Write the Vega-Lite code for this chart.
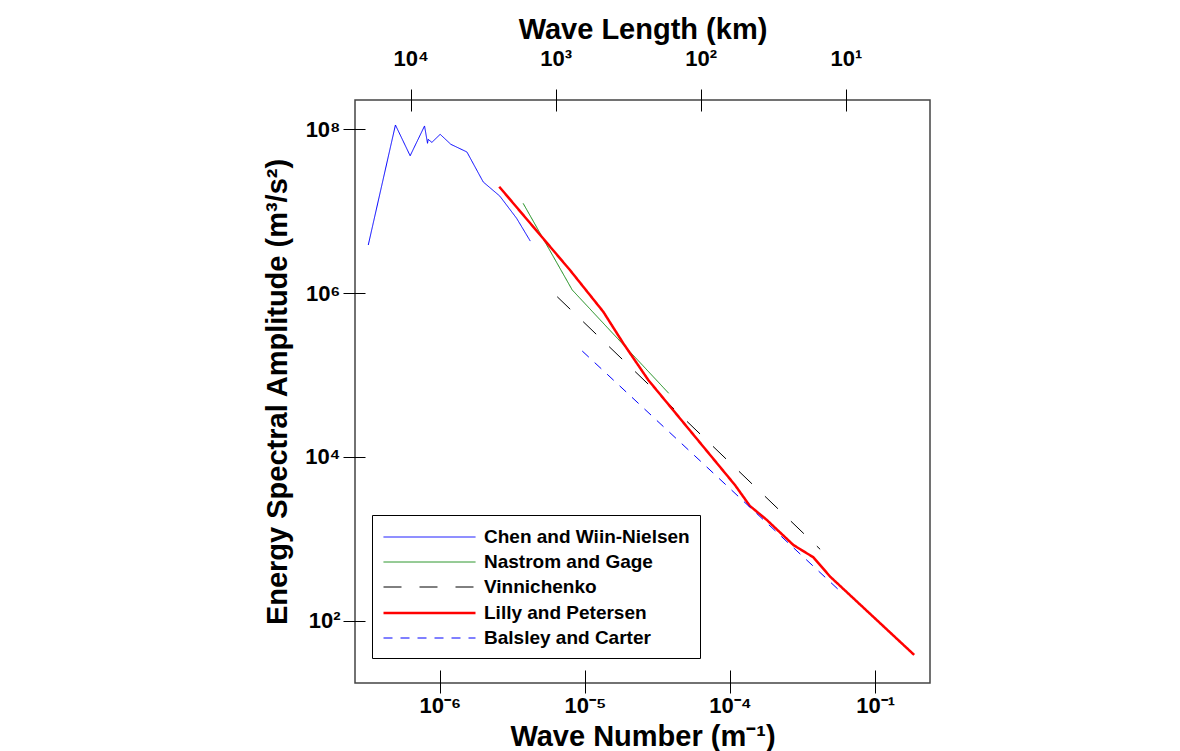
{
  "$schema": "https://vega.github.io/schema/vega-lite/v6.json",
  "autosize": {"type": "none"},
  "padding": {"left": 355, "top": 100, "right": 250, "bottom": 68},
  "width": 575,
  "height": 583,
  "background": "white",
  "config": {
    "view": {"stroke": "#444", "strokeWidth": 1.5},
    "font": "Liberation Sans",
    "axis": {
      "domain": false,
      "grid": false,
      "tickColor": "black",
      "tickWidth": 1,
      "labelFont": "Liberation Sans",
      "labelFontWeight": "bold",
      "labelFontSize": 22,
      "labelColor": "black",
      "titleFont": "Liberation Sans",
      "titleFontWeight": "bold",
      "titleFontSize": 29,
      "titleColor": "black"
    },
    "legend": {
      "title": null,
      "orient": "none",
      "legendX": 17,
      "legendY": 415,
      "padding": 10,
      "strokeColor": "black",
      "fillColor": "white",
      "labelFont": "Liberation Sans",
      "labelFontSize": 19,
      "labelFontWeight": "bold",
      "labelColor": "black",
      "labelLimit": 400,
      "symbolType": "M-1,0H7",
      "symbolSize": 529,
      "labelOffset": 76,
      "rowPadding": 3
    }
  },
  "data": {
    "values": [
      {"series": "Chen and Wiin-Nielsen", "k": 3.21e-7, "E": 3.85e6},
      {"series": "Chen and Wiin-Nielsen", "k": 4.94e-7, "E": 1.12e8},
      {"series": "Chen and Wiin-Nielsen", "k": 6.24e-7, "E": 4.72e7},
      {"series": "Chen and Wiin-Nielsen", "k": 7.84e-7, "E": 1.09e8},
      {"series": "Chen and Wiin-Nielsen", "k": 8.22e-7, "E": 6.7e7},
      {"series": "Chen and Wiin-Nielsen", "k": 8.3e-7, "E": 7.48e7},
      {"series": "Chen and Wiin-Nielsen", "k": 8.81e-7, "E": 6.88e7},
      {"series": "Chen and Wiin-Nielsen", "k": 1.005e-6, "E": 8.62e7},
      {"series": "Chen and Wiin-Nielsen", "k": 1.19e-6, "E": 6.51e7},
      {"series": "Chen and Wiin-Nielsen", "k": 1.536e-6, "E": 5.25e7},
      {"series": "Chen and Wiin-Nielsen", "k": 1.99e-6, "E": 2.26e7},
      {"series": "Chen and Wiin-Nielsen", "k": 2.59e-6, "E": 1.52e7},
      {"series": "Chen and Wiin-Nielsen", "k": 3.38e-6, "E": 8.15e6},
      {"series": "Chen and Wiin-Nielsen", "k": 4.2e-6, "E": 4.3e6},
      {"series": "Nastrom and Gage", "k": 3.75e-6, "E": 1.24e7},
      {"series": "Nastrom and Gage", "k": 8.17e-6, "E": 1.09e6},
      {"series": "Nastrom and Gage", "k": 3.78e-5, "E": 5.98e4},
      {"series": "Vinnichenko", "k": 6.44e-6, "E": 9.0e5},
      {"series": "Vinnichenko", "k": 4.18e-4, "E": 748},
      {"series": "Lilly and Petersen", "k": 2.565e-6, "E": 1.98e7},
      {"series": "Lilly and Petersen", "k": 7.88e-6, "E": 1.905e6},
      {"series": "Lilly and Petersen", "k": 1.337e-5, "E": 5.91e5},
      {"series": "Lilly and Petersen", "k": 1.836e-5, "E": 2.44e5},
      {"series": "Lilly and Petersen", "k": 2.73e-5, "E": 8.7e4},
      {"series": "Lilly and Petersen", "k": 1.08e-4, "E": 4560},
      {"series": "Lilly and Petersen", "k": 1.37e-4, "E": 2530},
      {"series": "Lilly and Petersen", "k": 1.79e-4, "E": 1710},
      {"series": "Lilly and Petersen", "k": 2.73e-4, "E": 845},
      {"series": "Lilly and Petersen", "k": 3.75e-4, "E": 598},
      {"series": "Lilly and Petersen", "k": 4.9e-4, "E": 347},
      {"series": "Lilly and Petersen", "k": 1.86e-3, "E": 38.5},
      {"series": "Balsley and Carter", "k": 9.58e-6, "E": 1.96e5},
      {"series": "Balsley and Carter", "k": 5.89e-4, "E": 221}
    ]
  },
  "layer": [
    {
      "mark": {"type": "line", "opacity": 0},
      "encoding": {
        "x": {
          "field": "k", "type": "quantitative",
          "scale": {"type": "log", "domain": [2.6e-7, 2.39e-3], "nice": false},
          "axis": {
            "orient": "top",
            "title": "Wave Length (km)",
            "values": [6.2832e-7, 6.2832e-6, 6.2832e-5, 6.2832e-4],
            "labelExpr": "datum.value < 1e-6 ? '10⁴' : datum.value < 1e-5 ? '10³' : datum.value < 1e-4 ? '10²' : '10¹'",
            "offset": -11,
            "tickSize": 22,
            "labelPadding": 19,
            "titlePadding": 3
          }
        },
        "y": {
          "field": "E", "type": "quantitative",
          "scale": {"type": "log", "domain": [17.5, 2.26e8], "nice": false},
          "axis": {
            "title": "Energy Spectral Amplitude (m³/s²)",
            "values": [100, 10000, 1000000, 100000000],
            "labelExpr": "datum.value < 1e3 ? '10²' : datum.value < 1e5 ? '10⁴' : datum.value < 1e7 ? '10⁶' : '10⁸'",
            "offset": -10,
            "tickSize": 22,
            "labelPadding": 3,
            "titlePadding": 12
          }
        },
        "detail": {"field": "series"}
      }
    },
    {
      "mark": {"type": "line"},
      "encoding": {
        "x": {
          "field": "k", "type": "quantitative",
          "scale": {"type": "log", "domain": [2.6e-7, 2.39e-3], "nice": false},
          "axis": {
            "orient": "bottom",
            "title": "Wave Number (m⁻¹)",
            "values": [1e-6, 1e-5, 1e-4, 1e-3],
            "labelExpr": "datum.value < 2e-6 ? '10⁻⁶' : datum.value < 2e-5 ? '10⁻⁵' : datum.value < 2e-4 ? '10⁻⁴' : '10⁻¹'",
            "offset": -13,
            "tickSize": 23,
            "labelPadding": 2,
            "titlePadding": 6
          }
        },
        "y": {
          "field": "E", "type": "quantitative",
          "scale": {"type": "log", "domain": [17.5, 2.26e8], "nice": false},
          "axis": {
            "title": "Energy Spectral Amplitude (m³/s²)",
            "values": [100, 10000, 1000000, 100000000],
            "labelExpr": "datum.value < 1e3 ? '10²' : datum.value < 1e5 ? '10⁴' : datum.value < 1e7 ? '10⁶' : '10⁸'",
            "offset": -10,
            "tickSize": 22,
            "labelPadding": 3,
            "titlePadding": 12
          }
        },
        "color": {
          "field": "series", "type": "nominal",
          "scale": {
            "domain": ["Chen and Wiin-Nielsen", "Nastrom and Gage", "Vinnichenko", "Lilly and Petersen", "Balsley and Carter"],
            "range": ["#0000ff", "#118811", "#000000", "#ff0000", "#0000ff"]
          },
          "legend": {"title": null}
        },
        "strokeDash": {
          "field": "series", "type": "nominal",
          "scale": {
            "domain": ["Chen and Wiin-Nielsen", "Nastrom and Gage", "Vinnichenko", "Lilly and Petersen", "Balsley and Carter"],
            "range": [[1, 0], [1, 0], [18, 18], [1, 0], [9, 8]]
          },
          "legend": {"title": null}
        },
        "strokeWidth": {
          "field": "series", "type": "nominal",
          "scale": {
            "type": "ordinal",
            "domain": ["Chen and Wiin-Nielsen", "Nastrom and Gage", "Vinnichenko", "Lilly and Petersen", "Balsley and Carter"],
            "range": [1, 1, 1, 2.5, 1]
          },
          "legend": {"title": null}
        }
      }
    }
  ],
  "resolve": {"axis": {"x": "independent"}}
}
